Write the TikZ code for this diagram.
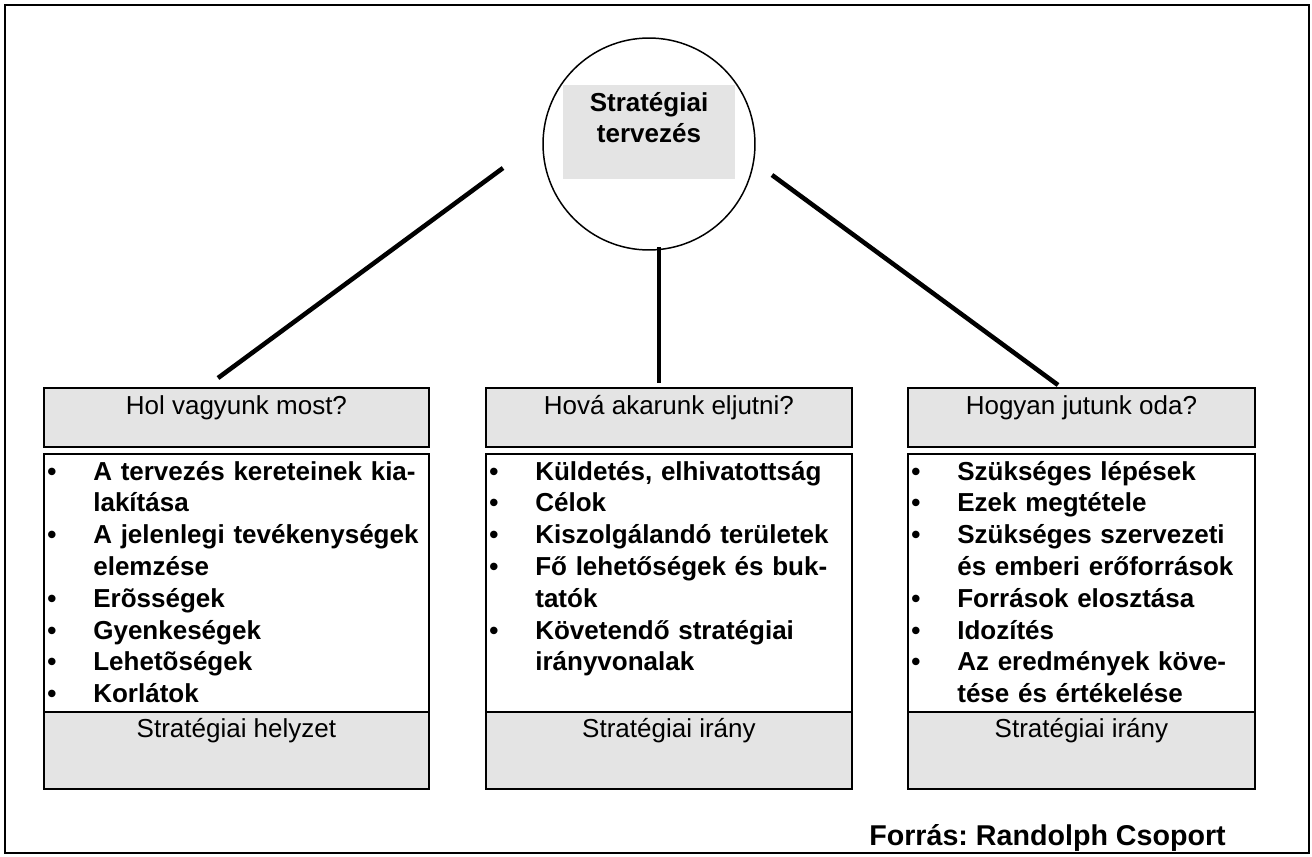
\documentclass[tikz,border=0pt]{standalone}
\usepackage{fontspec}
\setmainfont{Liberation Sans}
\usepackage{tikz}
\usetikzlibrary{positioning}

\definecolor{boxgray}{RGB}{228,228,228}

\newcommand{\bul}{\makebox[0.92cm][l]{\textbullet}}
\newcommand{\cont}{\hspace*{0.92cm}}
\frenchspacing

\begin{document}
\begin{tikzpicture}[
    x=0.02cm, y=-0.02cm,
    plan/.style     = {circle, draw, line width=0.85pt, minimum size=4.24cm, inner sep=0pt},
    plantext/.style = {rectangle, fill=boxgray, anchor=north, inner sep=0pt,
                       text width=3.44cm, align=center, text height=0.52cm, text depth=1.36cm,
                       font=\fontsize{14.8}{17.6}\selectfont\bfseries},
    head/.style     = {rectangle, draw, line width=1.1pt, fill=boxgray, anchor=north west,
                       inner sep=0pt, text height=0.54cm, text depth=0.64cm,
                       font=\fontsize{14.8}{18.1}\selectfont},
    foot/.style     = {head, text height=0.52cm, text depth=1.02cm},
    listbox/.style  = {rectangle, draw, line width=1.1pt, fill=white, anchor=north west,
                       inner sep=0pt, minimum height=5.16cm},
    items/.style    = {anchor=base west, inner sep=0pt, text width=9cm, align=left,
                       font=\fontsize{14.8}{18.1}\selectfont\bfseries},
    conn/.style     = {-, line width=2.6pt},
    source/.style   = {anchor=base west, inner sep=0pt, font=\fontsize{16.3}{19.5}\selectfont\bfseries},
]

\useasboundingbox (0,0) rectangle (1312,856);
\draw[line width=1.1pt] (5,5) rectangle (1309,853);

% --- centre: strategic planning ---
\node[plan] (plan) at (649,144) {};
\node[plantext] (plantxt) at (649,85) {Stratégiai\\tervezés};

% --- left column ---
\node[head, minimum width=7.7cm] (hhead) at (43,387) {Hol vagyunk most?};
\node[listbox, minimum width=7.7cm] (hlist) at (43,453) {};
\node[foot, minimum width=7.7cm] (hfoot) at (43,711) {Stratégiai helyzet};
\node[items] (hitems) at (47,480) {%
    \bul A tervezés kereteinek kia-\\
    \cont lakítása\\
    \bul A jelenlegi tevékenységek\\
    \cont elemzése\\
    \bul Erõsségek\\
    \bul Gyenkeségek\\
    \bul Lehetõségek\\
    \bul Korlátok};

% --- middle column ---
\node[head, minimum width=7.32cm] (mhead) at (485,387) {Hová akarunk eljutni?};
\node[listbox, minimum width=7.32cm] (mlist) at (485,453) {};
\node[foot, minimum width=7.32cm] (mfoot) at (485,711) {Stratégiai irány};
\node[items] (mitems) at (489,480) {%
    \bul Küldetés, elhivatottság\\
    \bul Célok\\
    \bul Kiszolgálandó területek\\
    \bul Fő lehetőségek és buk-\\
    \cont tatók\\
    \bul Követendő stratégiai\\
    \cont irányvonalak};

% --- right column ---
\node[head, minimum width=6.94cm] (rhead) at (907,387) {Hogyan jutunk oda?};
\node[listbox, minimum width=6.94cm] (rlist) at (907,453) {};
\node[foot, minimum width=6.94cm] (rfoot) at (907,711) {Stratégiai irány};
\node[items] (ritems) at (911,480) {%
    \bul Szükséges lépések\\
    \bul Ezek megtétele\\
    \bul Szükséges szervezeti\\
    \cont és emberi erőforrások\\
    \bul Források elosztása\\
    \bul Idozítés\\
    \bul Az eredmények köve-\\
    \cont tése és értékelése};

% --- connectors (free ends) ---
\coordinate (lt) at (503,168);
\coordinate (lb) at (218,378);
\coordinate (mt) at (659,247);
\coordinate (mb) at (659,383);
\coordinate (rt) at (772,175);
\coordinate (rb) at (1058,385);

\draw[conn] (lt) -- (lb);
\draw[conn] (mt) -- (mb);
\draw[conn] (rt) -- (rb);

% --- source ---
\node[source] (forras) at (869,845) {Forrás: Randolph Csoport};

\end{tikzpicture}
\end{document}
